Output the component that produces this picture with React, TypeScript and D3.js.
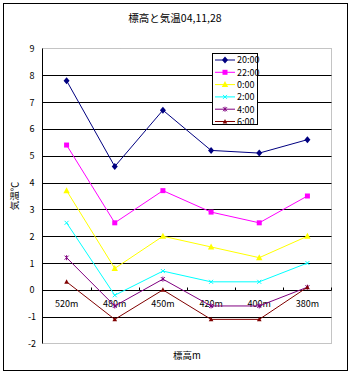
import React from "react";
import * as d3 from "d3";

const categories = ["520m", "480m", "450m", "420m", "400m", "380m"];
const seriesNames = ["20:00", "22:00", "0:00", "2:00", "4:00", "6:00"];
const s2000 = [7.8, 4.6, 6.7, 5.2, 5.1, 5.6];
const s2200 = [5.4, 2.5, 3.7, 2.9, 2.5, 3.5];
const s0000 = [3.7, 0.8, 2.0, 1.6, 1.2, 2.0];
const s0200 = [2.5, -0.2, 0.7, 0.3, 0.3, 1.0];
const s0400 = [1.2, -0.6, 0.4, -0.6, -0.6, 0.1];
const s0600 = [0.3, -1.1, 0.0, -1.1, -1.1, 0.1];
const yTicks = [9, 8, 7, 6, 5, 4, 3, 2, 1, 0, -1, -2];
const colors = ["#000080", "#FF00FF", "#FFFF00", "#00FFFF", "#800080", "#800000"];
const markers = ["diamond", "square", "triangle", "cross", "star", "smalltri"];

const W = 353, H = 375;
const left = 42.5, right = 331.5, top = 48.5, bottom = 343.5;
const font = "'Noto Sans CJK JP', 'Liberation Sans', sans-serif";

function Marker({ type, x, y, color }: { type: string; x: number; y: number; color: string }) {
  if (type === "diamond") return <path d={`M${x},${y - 3.5}L${x + 3},${y}L${x},${y + 3.5}L${x - 3},${y}Z`} fill={color} />;
  if (type === "square") return <rect x={x - 2.5} y={y - 2.5} width={5} height={5} fill={color} />;
  if (type === "triangle") return <path d={`M${x},${y - 3.5}L${x + 3.2},${y + 2.5}L${x - 3.2},${y + 2.5}Z`} fill={color} />;
  if (type === "smalltri") return <path d={`M${x},${y - 2.5}L${x + 2.3},${y + 2}L${x - 2.3},${y + 2}Z`} fill={color} />;
  if (type === "cross") return <path d={`M${x - 2},${y - 2}L${x + 2},${y + 2}M${x + 2},${y - 2}L${x - 2},${y + 2}`} stroke={color} strokeWidth={1} />;
  if (type === "star") return <path d={`M${x - 2},${y - 2}L${x + 2},${y + 2}M${x + 2},${y - 2}L${x - 2},${y + 2}M${x},${y - 2.5}L${x},${y + 2.5}`} stroke={color} strokeWidth={1} />;
  return null;
}

export default function App() {
  const series = [s2000, s2200, s0000, s0200, s0400, s0600];
  const x = d3.scaleBand<string>().domain(categories).range([left, right]);
  const y = d3.scaleLinear().domain([-2, 9]).range([bottom, top]);
  const cx = (c: string) => (x(c) as number) + x.bandwidth() / 2;
  const line = d3.line<number>().x((_, i) => cx(categories[i])).y((v) => y(v));
  const gy = (t: number) => Math.round(y(t)) + 0.5;
  const legX = 212.5, legY = 53.5, legW = 45, legH = 71;
  return (
    <svg width={W} height={H} style={{ position: "absolute", left: 0, top: 0 }}>
      <rect x={0} y={0} width={W} height={H} fill="#fff" />
      <rect x={3.5} y={3.5} width={344} height={367} fill="none" stroke="#000" strokeWidth={1} />
      <text x={175} y={22} textAnchor="middle" fontSize={10.5} fontFamily={font}>標高と気温04,11,28</text>
      <rect x={left} y={top} width={right - left} height={bottom - top} fill="none" stroke="#888" strokeWidth={1} strokeDasharray="1,1" />
      {yTicks.map((t) => (
        <g key={t}>
          {t !== 9 && t !== -2 && <line x1={left} x2={right} y1={gy(t)} y2={gy(t)} stroke="#000" strokeWidth={1} />}
          <text x={32} y={y(t) + 3.5} textAnchor="middle" fontSize={9} fontFamily={font}>{t}</text>
        </g>
      ))}
      <line x1={left} x2={left} y1={top} y2={bottom} stroke="#000" strokeWidth={1} />
      {categories.map((c, i) => (
        <g key={c}>
          {i > 0 && <line x1={Math.round(x(c) as number) + 0.5} x2={Math.round(x(c) as number) + 0.5} y1={gy(0) - 3} y2={gy(0)} stroke="#000" />}
          <text x={cx(c)} y={y(0) + 17} textAnchor="middle" fontSize={9} fontFamily={font}>{c}</text>
        </g>
      ))}
      <line x1={right} x2={right} y1={gy(0) - 3} y2={gy(0)} stroke="#000" />
      {series.map((s, k) => (
        <g key={seriesNames[k]}>
          <path d={line(s) as string} fill="none" stroke={colors[k]} strokeWidth={1} />
          {s.map((v, i) => (
            <Marker key={i} type={markers[k]} x={cx(categories[i])} y={y(v)} color={colors[k]} />
          ))}
        </g>
      ))}
      <text x={187} y={359} textAnchor="middle" fontSize={9.5} fontFamily={font}>標高m</text>
      <text transform={`translate(18,${(top + bottom) / 2}) rotate(-90)`} textAnchor="middle" fontSize={9.5} fontFamily={font}>気温℃</text>
      <rect x={legX} y={legY} width={legW} height={legH} fill="#fff" stroke="#000" strokeWidth={1} />
      {seriesNames.map((n, k) => {
        const ly = 60 + k * 12.3;
        return (
          <g key={n}>
            <line x1={215} x2={235} y1={ly} y2={ly} stroke={colors[k]} strokeWidth={1} />
            <Marker type={markers[k]} x={225} y={ly} color={colors[k]} />
            <text x={237} y={ly + 3.3} fontSize={9} fontFamily={font}>{n}</text>
          </g>
        );
      })}
    </svg>
  );
}
